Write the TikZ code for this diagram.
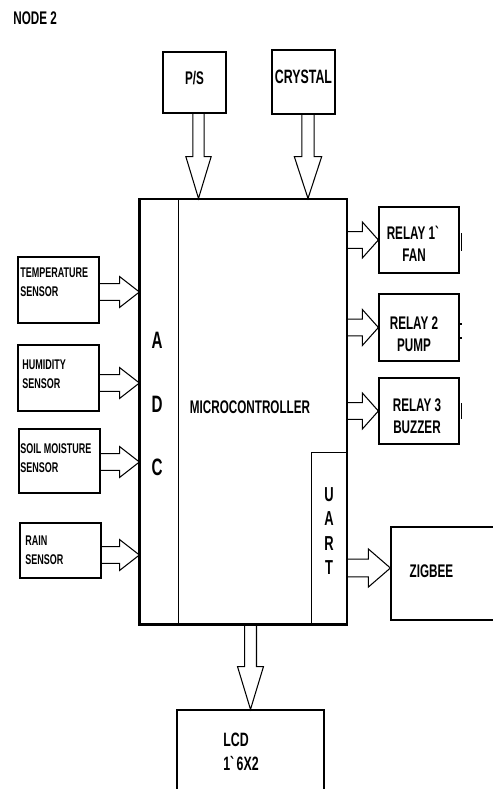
\documentclass[tikz,border=0pt]{standalone}
\usepackage{fontspec}
\setmainfont{Liberation Sans}[FakeStretch=0.64]
\usetikzlibrary{calc}

\tikzset{
  box/.style={draw, line width=0.7pt, inner sep=0pt},
  txt/.style={font=\fontsize{10.4}{12.5}\selectfont\bfseries, inner sep=0pt},
  stxt/.style={font=\fontsize{8}{10.8}\selectfont\bfseries, inner sep=0pt, align=left, anchor=west},
  fat/.style={draw, line width=0.6pt, line join=miter}
}

% hollow block arrow: from, to, shaft half width, head half width, head length
\newcommand{\fatarrow}[5]{%
  \coordinate (fa-h) at ($(#2)!#5!(#1)$);
  \draw[fat] ($(#1)!#3!90:(#2)$) -- ($(fa-h)!#3!90:(#2)$) -- ($(fa-h)!#4!90:(#2)$)
    -- (#2) -- ($(fa-h)!#4!-90:(#2)$) -- ($(fa-h)!#3!-90:(#2)$) -- ($(#1)!#3!-90:(#2)$);
}

\begin{document}
\begin{tikzpicture}[x=0.02cm, y=-0.02cm]
\useasboundingbox (0,0) rectangle (493,789);

\node[txt, anchor=west] (title) at (13,18) {NODE 2};

% inputs on top
\node[box, minimum width=1.26cm, minimum height=1.22cm] (ps) at (194.5,82.5) {};
\node[box, minimum width=1.26cm, minimum height=1.28cm] (xtal) at (303.5,82) {};
\node[txt] at (194.5,78) {P/S};
\node[txt, font=\fontsize{11}{13}\selectfont\bfseries] at (303.5,77) {CRYSTAL};

% microcontroller
\node[box, minimum width=4.14cm, minimum height=8.50cm] (mc) at (243.5,411.5) {};
\draw[line width=1.2pt] (mc.north west) -- (mc.south west) -- (mc.south east);
\draw[line width=0.5pt] ($(mc.north west)+(39,0)$) -- ($(mc.south west)+(39,0)$);
\node[box, line width=0.5pt, minimum width=0.72cm, minimum height=3.44cm] (uart) at (329,538) {};
\node[txt, font=\fontsize{13.5}{36}\selectfont\bfseries, align=center] (adc) at (157,404) {A\\D\\C};
\node[txt] (mclbl) at (250,407) {MICROCONTROLLER};
\node[txt, font=\fontsize{11.5}{13.8}\selectfont\bfseries, align=center] (uartlbl) at (329,531) {U\\A\\R\\T};

% sensors
\node[box, minimum width=1.62cm, minimum height=1.32cm] (temp) at (58.5,290) {};
\node[box, minimum width=1.62cm, minimum height=1.32cm] (hum) at (58.5,378) {};
\node[box, minimum width=1.62cm, minimum height=1.28cm] (soil) at (59.5,461) {};
\node[box, minimum width=1.62cm, minimum height=1.10cm] (rain) at (60.5,550.5) {};
\node[stxt] at (20,282) {TEMPERATURE\\SENSOR};
\node[stxt] at (22,374) {HUMIDITY\\SENSOR};
\node[stxt] at (20,458) {SOIL MOISTURE\\SENSOR};
\node[stxt] at (25,550.5) {RAIN\\SENSOR};

% relays
\node[box, minimum width=1.60cm, minimum height=1.32cm] (r1) at (419,240) {};
\node[box, minimum width=1.60cm, minimum height=1.34cm] (r2) at (419,327.5) {};
\node[box, minimum width=1.60cm, minimum height=1.32cm] (r3) at (419,411) {};
\node[txt, align=center] at (414,244) {RELAY 1\textasciigrave\\FAN};
\node[txt, align=center] at (414,334) {RELAY 2\\PUMP};
\node[txt, align=center] at (417,416.5) {RELAY 3\\BUZZER};
\draw[line width=0.6pt] ($(r1.east)+(2,-7)$) -- ($(r1.east)+(2,11)$);
\draw[line width=0.6pt] ($(r2.east)+(0,-3.5)$) -- ($(r2.east)+(2,-3.5)$);
\draw[line width=0.6pt] ($(r2.east)+(0,10.5)$) -- ($(r2.east)+(2,10.5)$);
\draw[line width=0.6pt] ($(r3.east)+(2,-8)$) -- ($(r3.east)+(2,8)$);

% outputs
\node[box, minimum width=2.40cm, minimum height=1.86cm] (zig) at (451,573.5) {};
\node[txt] at (431.5,571) {ZIGBEE};
\node[box, minimum width=2.94cm, minimum height=2.00cm] (lcd) at (250.5,760) {};
\node[txt, font=\fontsize{11}{14}\selectfont\bfseries, align=left, anchor=west] at (223,752) {LCD\\1\textasciigrave 6X2};

% arrows
\coordinate (ps-o) at ($(ps.south)+(4,0)$);
\coordinate (xtal-o) at ($(xtal.south)+(4.5,0)$);
\fatarrow{ps-o}{ps-o |- mc.north}{3.2pt}{7.2pt}{23.8pt}
\fatarrow{xtal-o}{xtal-o |- mc.north}{3.5pt}{7.8pt}{23.8pt}

\coordinate (temp-o) at ($(temp.east)+(0,2)$);
\coordinate (hum-o) at ($(hum.east)+(0,5)$);
\coordinate (soil-o) at ($(soil.east)+(0,1)$);
\coordinate (rain-o) at ($(rain.east)+(0,4.5)$);
\fatarrow{temp-o}{temp-o -| mc.west}{4.8pt}{8.8pt}{11.3pt}
\fatarrow{hum-o}{hum-o -| mc.west}{4.8pt}{8.8pt}{11.3pt}
\fatarrow{soil-o}{soil-o -| mc.west}{4.8pt}{8.8pt}{11.3pt}
\fatarrow{rain-o}{rain-o -| mc.west}{4.8pt}{8.8pt}{11.3pt}

\fatarrow{r1.west -| mc.east}{r1.west}{4.8pt}{10.2pt}{9.1pt}
\fatarrow{r2.west -| mc.east}{r2.west}{4.8pt}{10.2pt}{9.1pt}
\fatarrow{r3.west -| mc.east}{r3.west}{4.8pt}{10.2pt}{9.1pt}

\coordinate (zig-i) at ($(zig.west)+(0,-5.5)$);
\fatarrow{zig-i -| mc.east}{zig-i}{5.1pt}{10.8pt}{12.5pt}
\fatarrow{lcd.north |- mc.south}{lcd.north}{3.4pt}{7.4pt}{24.4pt}
\end{tikzpicture}
\end{document}
